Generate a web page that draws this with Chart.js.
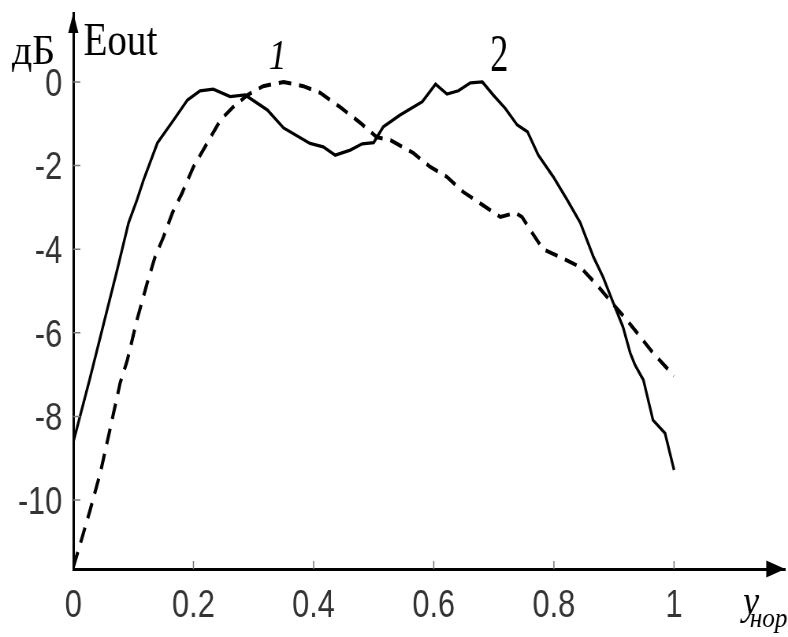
<!DOCTYPE html>
<html>
<head>
<meta charset="utf-8">
<script src="https://cdn.jsdelivr.net/npm/chart.js@4/dist/chart.umd.min.js"></script>
<style>
  html, body { margin: 0; padding: 0; background: #fff; }
  #plot { display: block; width: 788px; height: 637px; }
</style>
</head>
<body>
<canvas id="plot" width="1000" height="637" style="width:788px;height:637px"></canvas>
<script>
// the 1000px wide drawing surface is shown 788px wide, which gives the narrow glyphs
const SQUEEZE = 788 / 1000;

const xTicks = [0, 0.2, 0.4, 0.6, 0.8, 1];
const yTicks = [0, -2, -4, -6, -8, -10];
const X_MIN = 0, X_MAX = 1.185;
const Y_MIN = -11.65, Y_MAX = 1.65;

// curve 1 (dashed)
const curve1X = [0, 0.012, 0.028, 0.045, 0.062, 0.078, 0.09, 0.106, 0.123, 0.136, 0.15, 0.165, 0.181,
  0.2, 0.223, 0.245, 0.266, 0.29, 0.316, 0.35, 0.383, 0.411, 0.444, 0.478, 0.505, 0.528, 0.566, 0.594,
  0.622, 0.649, 0.681, 0.711, 0.736, 0.747, 0.764, 0.782, 0.814, 0.844, 0.872, 0.897, 0.919, 0.944, 0.965, 1.0];
const curve1Y = [-11.6, -11.03, -10.24, -9.35, -8.25, -7.2, -6.65, -5.69, -4.81, -4.19, -3.71, -3.13, -2.66,
  -2.03, -1.46, -0.91, -0.6, -0.31, -0.1, 0, -0.1, -0.26, -0.6, -0.98, -1.32, -1.39, -1.7, -2.03,
  -2.27, -2.63, -2.94, -3.23, -3.13, -3.23, -3.61, -4.0, -4.21, -4.43, -4.86, -5.29, -5.65, -6.1, -6.48, -7.03];

// curve 2 (solid)
const curve2X = [0, 0.027, 0.045, 0.073, 0.092, 0.106, 0.117, 0.14, 0.167, 0.19, 0.211, 0.233, 0.261, 0.286,
  0.323, 0.35, 0.394, 0.416, 0.436, 0.461, 0.481, 0.5, 0.516, 0.544, 0.581, 0.603, 0.622, 0.641, 0.661,
  0.681, 0.699, 0.719, 0.739, 0.756, 0.774, 0.799, 0.822, 0.844, 0.866, 0.882, 0.899, 0.915, 0.927, 0.935,
  0.949, 0.965, 0.985, 1.0];
const curve2Y = [-8.61, -7.13, -6.1, -4.5, -3.37, -2.82, -2.34, -1.46, -0.91, -0.43, -0.21, -0.17, -0.35, -0.31,
  -0.67, -1.1, -1.47, -1.55, -1.75, -1.63, -1.48, -1.45, -1.07, -0.79, -0.47, -0.05, -0.29, -0.21, -0.02,
  0, -0.31, -0.63, -1.03, -1.19, -1.75, -2.27, -2.82, -3.37, -4.19, -4.67, -5.29, -5.86, -6.48, -6.77,
  -7.13, -8.09, -8.4, -9.28];

const toPoints = (xs, ys) => xs.map((x, i) => ({ x: x, y: ys[i] }));

// draws text with its own horizontal stretch, undoing the canvas squeeze
function drawLabel(ctx, text, x, y, font, stretch, align) {
  ctx.save();
  ctx.translate(x, y);
  ctx.scale(stretch / SQUEEZE, 1);
  ctx.font = font;
  ctx.fillStyle = '#000';
  ctx.textAlign = align || 'left';
  ctx.textBaseline = 'alphabetic';
  ctx.fillText(text, 0, 0);
  ctx.restore();
}

// inward tick marks, arrow heads and the axis/curve captions
const axisDecor = {
  id: 'axisDecor',
  afterDraw(chart) {
    const { ctx, chartArea: area, scales } = chart;
    const xs = scales.x, ys = scales.y;
    ctx.save();

    ctx.strokeStyle = '#7a7a7a';
    ctx.lineWidth = 1.5;
    ctx.beginPath();
    xTicks.slice(1).forEach(v => {
      const px = xs.getPixelForValue(v);
      ctx.moveTo(px, area.bottom);
      ctx.lineTo(px, area.bottom - 8);
    });
    yTicks.forEach(v => {
      const py = ys.getPixelForValue(v);
      ctx.moveTo(area.left, py);
      ctx.lineTo(area.left + 9, py);
    });
    ctx.stroke();

    ctx.fillStyle = '#000';
    ctx.beginPath();
    ctx.moveTo(area.right, area.bottom);
    ctx.lineTo(area.right - 24, area.bottom - 8.5);
    ctx.lineTo(area.right - 24, area.bottom + 8.5);
    ctx.closePath();
    ctx.moveTo(area.left, area.top);
    ctx.lineTo(area.left - 6.5, area.top + 20);
    ctx.lineTo(area.left + 6.5, area.top + 20);
    ctx.closePath();
    ctx.fill();

    drawLabel(ctx, 'дБ', 15, 64, '42px "Liberation Serif"', 0.95);
    drawLabel(ctx, 'Eout', area.left + 13, 55, '46px "Liberation Serif"', 0.85);
    drawLabel(ctx, '1', xs.getPixelForValue(0.34), ys.getPixelForValue(0.31), 'italic 42px "Liberation Serif"', 0.85, 'center');
    drawLabel(ctx, '2', xs.getPixelForValue(0.709), ys.getPixelForValue(0.26), '52px "Liberation Serif"', 0.7, 'center');
    drawLabel(ctx, 'y', xs.getPixelForValue(1.115), area.bottom + 45, 'italic 40px "Liberation Serif"', 0.9);
    drawLabel(ctx, 'нор', xs.getPixelForValue(1.126), area.bottom + 58, 'italic 28px "Liberation Serif"', 0.9);

    ctx.restore();
  }
};

const tickFont = { family: '"Liberation Sans", Arial, sans-serif', size: 39 };

new Chart(document.getElementById('plot'), {
  type: 'line',
  data: {
    datasets: [
      {
        label: '1',
        data: toPoints(curve1X, curve1Y),
        borderColor: '#000',
        borderWidth: 4,
        borderDash: [16, 10],
        pointRadius: 0,
        tension: 0,
        fill: false
      },
      {
        label: '2',
        data: toPoints(curve2X, curve2Y),
        borderColor: '#000',
        borderWidth: 3.3,
        pointRadius: 0,
        tension: 0,
        fill: false
      }
    ]
  },
  options: {
    responsive: false,
    animation: false,
    devicePixelRatio: 1,
    layout: { padding: { left: 0, right: 3.6, top: 13, bottom: 0 } },
    scales: {
      x: {
        type: 'linear',
        min: X_MIN,
        max: X_MAX,
        afterBuildTicks: (scale) => { scale.ticks = xTicks.map(v => ({ value: v })); },
        afterFit: (scale) => { scale.height = 68; },
        grid: { display: false, drawTicks: false },
        border: { display: true, color: '#000', width: 3 },
        ticks: {
          autoSkip: false,
          maxRotation: 0,
          padding: 14,
          color: '#333',
          font: tickFont,
          callback: (v) => String(v)
        }
      },
      y: {
        type: 'linear',
        min: Y_MIN,
        max: Y_MAX,
        afterBuildTicks: (scale) => { scale.ticks = yTicks.map(v => ({ value: v })); },
        afterFit: (scale) => {
          scale.width = 93;
          // labels sit well inside the axis, so no extra room above/below
          scale.paddingTop = 0;
          scale.paddingBottom = 0;
        },
        grid: { display: false, drawTicks: false },
        border: { display: true, color: '#000', width: 3 },
        ticks: {
          autoSkip: false,
          padding: 14,
          labelOffset: 3,
          color: '#333',
          font: tickFont,
          callback: (v) => String(v)
        }
      }
    },
    plugins: {
      legend: { display: false },
      tooltip: { enabled: false }
    }
  },
  plugins: [axisDecor]
});
</script>
</body>
</html>
